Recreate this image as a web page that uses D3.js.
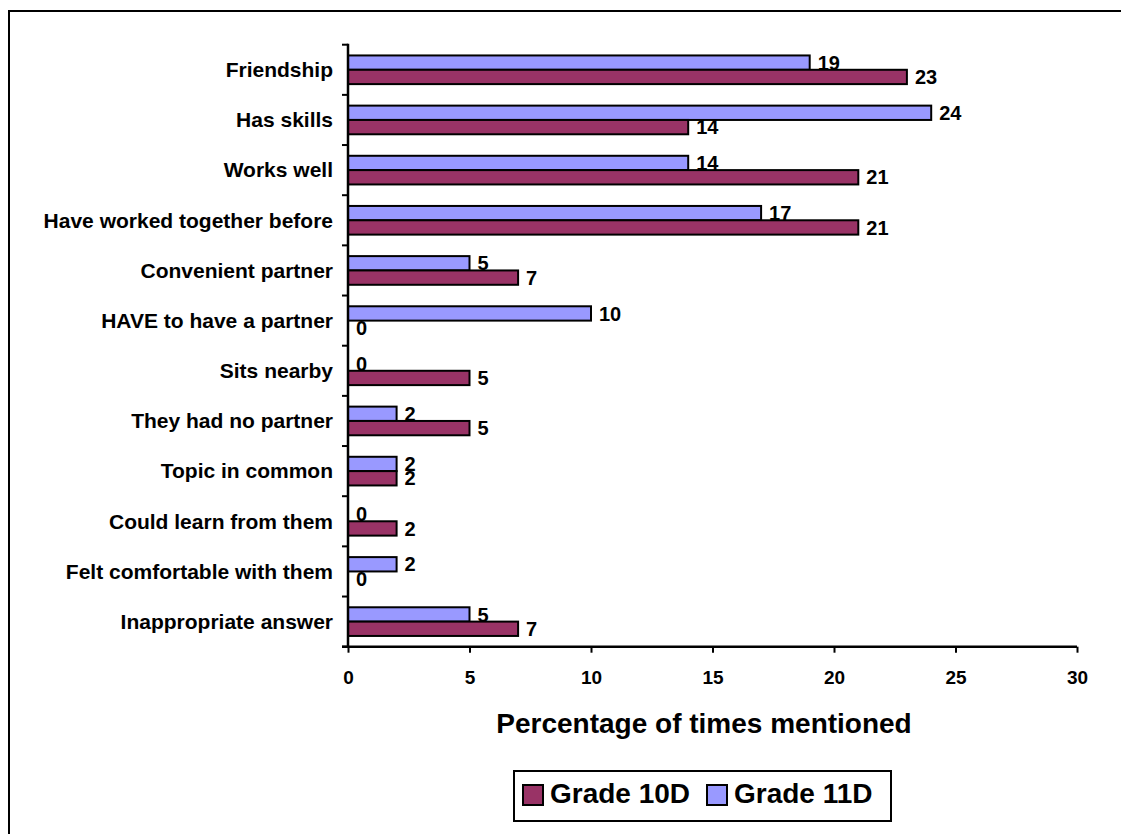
<!DOCTYPE html>
<html>
<head>
<meta charset="utf-8">
<script src="https://cdn.jsdelivr.net/npm/d3@7"></script>
<style>
  html, body { margin: 0; padding: 0; background: #fff; }
  svg { display: block; }
  text { font-family: "Liberation Sans", Arial, sans-serif; font-weight: bold; fill: #000; }
</style>
</head>
<body>
<svg id="chart" width="1121" height="834"></svg>
<script>
// Reasons given for choosing a partner
const categories = [
  "Friendship",
  "Has skills",
  "Works well",
  "Have worked together before",
  "Convenient partner",
  "HAVE to have a partner",
  "Sits nearby",
  "They had no partner",
  "Topic in common",
  "Could learn from them",
  "Felt comfortable with them",
  "Inappropriate answer"
];
const grade11D = [19, 24, 14, 17, 5, 10, 0, 2, 2, 0, 2, 5];
const grade10D = [23, 14, 21, 21, 7, 0, 5, 5, 2, 2, 0, 7];
const xTicks = [0, 5, 10, 15, 20, 25, 30];

const seriesNames = ["Grade 10D", "Grade 11D"];
const seriesColors = { "Grade 10D": "#993366", "Grade 11D": "#9999FF" };

// Within each category the Grade 11D bar sits above the Grade 10D bar
const barOrder = ["Grade 11D", "Grade 10D"];
const valuesBySeries = { "Grade 10D": grade10D, "Grade 11D": grade11D };

const svg = d3.select("#chart");

// outer frame (runs off the right and bottom edges)
svg.append("rect")
  .attr("x", 9).attr("y", 11)
  .attr("width", 1130).attr("height", 840)
  .attr("fill", "none").attr("stroke", "#000").attr("stroke-width", 2);

const plot = { left: 348, right: 1077, top: 44.7, bottom: 646.7 };

const x = d3.scaleLinear().domain([0, 30]).range([plot.left, plot.right]);
const y = d3.scaleBand().domain(categories).range([plot.top, plot.bottom]);
const inner = d3.scaleBand().domain(barOrder)
  .range([0, y.bandwidth()]).paddingOuter(0.75).paddingInner(0);

const rows = categories.map((c, i) => ({
  cat: c,
  bars: barOrder.map(s => ({ series: s, value: valuesBySeries[s][i] }))
}));

const groups = svg.append("g").selectAll("g.row")
  .data(rows).join("g")
  .attr("class", "row")
  .attr("transform", d => `translate(0,${y(d.cat)})`);

groups.selectAll("rect")
  .data(d => d.bars).join("rect")
  .attr("x", x(0))
  .attr("y", d => inner(d.series))
  .attr("width", d => x(d.value) - x(0))
  .attr("height", inner.bandwidth())
  .attr("fill", d => seriesColors[d.series])
  .attr("stroke", "#000")
  .attr("stroke-width", 2);

groups.selectAll("text.val")
  .data(d => d.bars).join("text")
  .attr("class", "val")
  .attr("x", d => x(d.value) + 8)
  .attr("y", d => inner(d.series) + inner.bandwidth() / 2)
  .attr("dy", "0.36em")
  .style("font-size", "20px")
  .text(d => d.value);

// y axis: ticks sit on the category boundaries
const boundaries = categories.map(c => y(c)).concat([y.range()[1]]);
const yG = svg.append("g").attr("transform", `translate(${plot.left},0)`);
yG.selectAll("line.b").data(boundaries).join("line")
  .attr("class", "b")
  .attr("x1", -6).attr("x2", 0)
  .attr("y1", d => d).attr("y2", d => d)
  .attr("stroke", "#000").attr("stroke-width", 2);
yG.append("path").attr("d", `M0,${plot.top - 1}V${plot.bottom}`)
  .attr("stroke", "#000").attr("stroke-width", 2.5).attr("fill", "none");

svg.append("g").selectAll("text.cat")
  .data(categories).join("text")
  .attr("class", "cat")
  .attr("x", 333)
  .attr("y", d => y(d) + y.bandwidth() / 2)
  .attr("dy", "0.35em")
  .attr("text-anchor", "end")
  .style("font-size", "21px")
  .text(d => d);

// x axis
const xAxis = d3.axisBottom(x).tickValues(xTicks).tickSize(6).tickSizeOuter(0).tickPadding(18);
const xG = svg.append("g").attr("transform", `translate(0,${plot.bottom})`).call(xAxis);
xG.select(".domain").attr("stroke", "#000").attr("stroke-width", 2.5)
  .attr("d", `M${plot.left - 6},0H${plot.right}`);
xG.selectAll(".tick line").attr("stroke", "#000").attr("stroke-width", 2);
xG.selectAll(".tick text")
  .attr("font-family", null).attr("font-size", null)
  .style("font-size", "19px");

svg.append("text")
  .attr("x", 704).attr("y", 733)
  .attr("text-anchor", "middle")
  .style("font-size", "28px")
  .text("Percentage of times mentioned");

// legend
const legend = svg.append("g");
legend.append("rect")
  .attr("x", 514).attr("y", 771).attr("width", 377).attr("height", 50)
  .attr("fill", "#fff").attr("stroke", "#000").attr("stroke-width", 2);
const legendX = { "Grade 10D": 523, "Grade 11D": 707 };
const items = legend.selectAll("g.item").data(seriesNames).join("g")
  .attr("class", "item")
  .attr("transform", d => `translate(${legendX[d]},0)`);
items.append("rect")
  .attr("x", 0).attr("y", 785).attr("width", 20).attr("height", 20)
  .attr("fill", d => seriesColors[d]).attr("stroke", "#000").attr("stroke-width", 2);
items.append("text")
  .attr("x", 27).attr("y", 802.5)
  .style("font-size", "28px")
  .text(d => d);
</script>
</body>
</html>
